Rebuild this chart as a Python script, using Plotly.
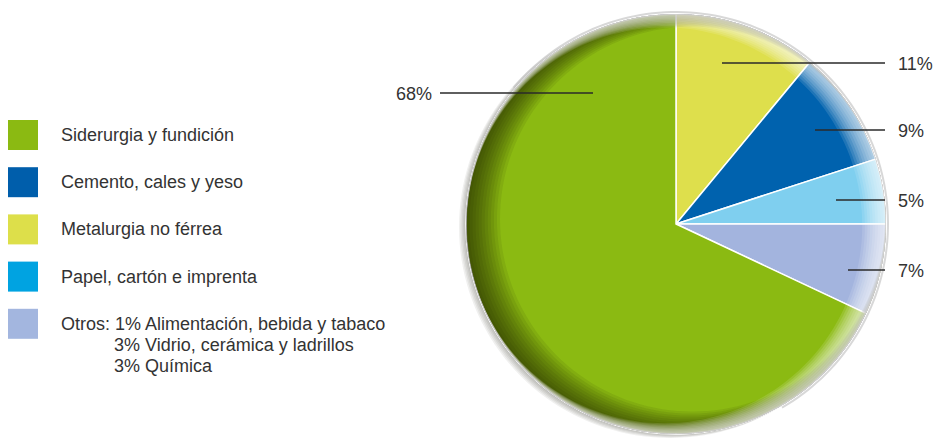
import numpy as np
import plotly.graph_objects as go

W, H = 951, 443

# Pie slices, clockwise from 12 o'clock
slice_labels = ["Metalurgia no férrea", "Cemento, cales y yeso", "Papel, cartón e imprenta",
                "Otros", "Siderurgia y fundición"]
slice_values = [11, 9, 5, 7, 68]
slice_colors = ["#DEDF4C", "#0062AE", "#7FCFEF", "#A3B4DE", "#8BBA12"]

# Legend entries (own order)
legend_labels = ["Siderurgia y fundición", "Cemento, cales y yeso", "Metalurgia no férrea",
                 "Papel, cartón e imprenta", "Otros:"]
legend_colors = ["#8BBA12", "#005EAB", "#DDDF4A", "#00A3E1", "#A3B6DF"]
otros_detail = ["1% Alimentación, bebida y tabaco", "3% Vidrio, cerámica y ladrillos", "3% Química"]

TEXT = "#333333"
FONT = "Liberation Sans"
FSIZE = 18

# pixel -> paper helpers
def px(x):
    return x / W

def py(y):
    return 1 - y / H

CX, CY, R = 676, 224, 210

fig = go.Figure()
fig.add_trace(go.Pie(
    labels=slice_labels, values=slice_values, sort=False, direction="clockwise",
    rotation=0, textinfo="none", hoverinfo="label+percent", showlegend=False,
    marker=dict(colors=slice_colors, line=dict(color="white", width=1.5)),
    domain=dict(x=[px(CX - R), px(CX + R)], y=[py(CY + R), py(CY - R)]),
))


def circle(cx, cy, r, n=160, reverse=False):
    t = np.linspace(0, 2 * np.pi, n, endpoint=False)
    if reverse:
        t = t[::-1]
    pts = [(px(cx + r * np.sin(a)), py(cy - r * np.cos(a))) for a in t]
    return "M" + " L".join(f"{x:.5f},{y:.5f}" for x, y in pts) + " Z"


def crescent(dx, dy):
    off = np.hypot(dx, dy)
    return circle(CX, CY, R) + " " + circle(CX + dx, CY + dy, R - off - 0.3, reverse=True)


shapes = []
# soft drop shadow behind the disc
for k in range(1, 6):
    shapes.append(dict(type="path", xref="paper", yref="paper", layer="below",
                       path=circle(CX - 1.2 * k, CY + 0.6 * k, R + 0.2 * k),
                       fillcolor="rgba(40,40,30,0.07)", line=dict(width=0)))

# dark rim on the left / bottom side
for k in range(1, 12):
    shapes.append(dict(type="path", xref="paper", yref="paper", layer="above",
                       path=crescent(1.5 * k, -0.45 * k),
                       fillcolor="rgba(20,28,0,0.08)", line=dict(width=0)))

# light glow on the right side
for k in range(1, 10):
    shapes.append(dict(type="path", xref="paper", yref="paper", layer="above",
                       path=crescent(-1.3 * k, 0.15 * k),
                       fillcolor="rgba(255,255,255,0.12)", line=dict(width=0)))

# faint outline arc on the right
t = np.radians(np.linspace(-50, 150, 120))
arc = [(px(CX + (R + 2) * np.sin(a)), py(CY - (R + 2) * np.cos(a))) for a in t]
shapes.append(dict(type="path", xref="paper", yref="paper", layer="above",
                   path="M" + " L".join(f"{x:.5f},{y:.5f}" for x, y in arc),
                   line=dict(color="rgba(190,190,190,0.6)", width=2)))

annotations = []

# percentage labels with leader lines: (slice index, line start x, y, side)
leaders = [(0, 722, 63, "r"), (1, 815, 130, "r"), (2, 836, 200, "r"),
           (3, 848, 270, "r"), (4, 593, 93, "l")]
for i, x0, y0, side in leaders:
    x1 = 885 if side == "r" else 440
    shapes.append(dict(type="line", xref="paper", yref="paper", layer="above",
                       x0=px(x0), x1=px(x1), y0=py(y0), y1=py(y0),
                       line=dict(color="#2a2a2a", width=1.3)))
    annotations.append(dict(
        xref="paper", yref="paper", showarrow=False,
        x=px(896) if side == "r" else px(434), y=py(y0 + 1),
        xanchor="left" if side == "r" else "right", yanchor="middle",
        text=f"{slice_values[i]}%", font=dict(family=FONT, size=FSIZE, color=TEXT)))

# legend
for j, (lab, col) in enumerate(zip(legend_labels, legend_colors)):
    top = 120 + j * 47.2
    shapes.append(dict(type="rect", xref="paper", yref="paper", layer="above",
                       x0=px(8), x1=px(38), y0=py(top), y1=py(top + 30),
                       fillcolor=col, line=dict(width=0)))
    txt = lab if lab != "Otros:" else lab + " " + otros_detail[0]
    annotations.append(dict(
        xref="paper", yref="paper", showarrow=False, x=px(59), y=py(top + 15),
        xanchor="left", yanchor="middle", text=txt,
        font=dict(family=FONT, size=FSIZE, color=TEXT)))
    if lab == "Otros:":
        for m, extra in enumerate(otros_detail[1:], start=1):
            annotations.append(dict(
                xref="paper", yref="paper", showarrow=False, x=px(112),
                y=py(top + 15 + 21 * m), xanchor="left", yanchor="middle",
                text=extra, font=dict(family=FONT, size=FSIZE, color=TEXT)))

fig.update_layout(
    width=W, height=H, margin=dict(l=0, r=0, t=0, b=0),
    paper_bgcolor="white", plot_bgcolor="white",
    shapes=shapes, annotations=annotations, showlegend=False,
)

fig.write_html("out.html")
